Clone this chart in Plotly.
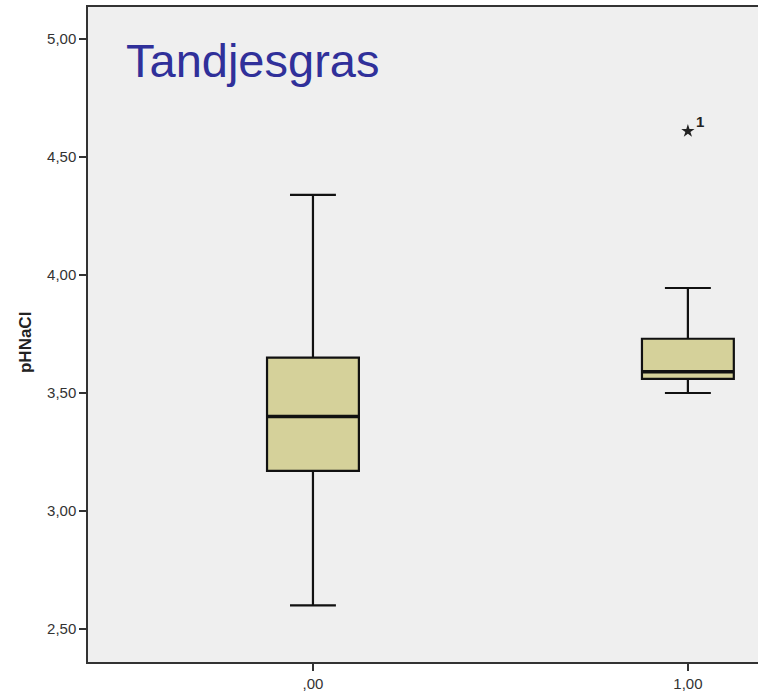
import plotly.graph_objects as go

# Data
groups = [0.0, 1.0]
group_labels = [",00", "1,00"]
lower_whisker = [2.60, 3.50]
q1 = [3.17, 3.56]
median = [3.40, 3.59]
q3 = [3.65, 3.73]
upper_whisker = [4.34, 3.945]
outlier_x = [1.0]
outlier_y = [4.61]
outlier_labels = ["1"]
y_ticks = [2.5, 3.0, 3.5, 4.0, 4.5, 5.0]
y_tick_labels = ["2,50", "3,00", "3,50", "4,00", "4,50", "5,00"]

box_w = 0.245
fill = "#d5d19a"
FONT = "Liberation Sans, Arial"

fig = go.Figure()
for i, g in enumerate(groups):
    fig.add_trace(go.Box(
        x=[g], q1=[q1[i]], median=[median[i]], q3=[q3[i]],
        lowerfence=[lower_whisker[i]], upperfence=[upper_whisker[i]],
        width=box_w, whiskerwidth=0.5, fillcolor=fill,
        line=dict(color="#111111", width=2.2),
        boxpoints=False, showlegend=False, hoverinfo="skip",
    ))
    fig.add_trace(go.Scatter(
        x=[g - box_w / 2, g + box_w / 2], y=[median[i], median[i]],
        mode="lines", line=dict(color="#111111", width=3.5),
        showlegend=False, hoverinfo="skip",
    ))

fig.add_trace(go.Scatter(
    x=outlier_x, y=outlier_y, mode="markers",
    marker=dict(symbol="star", size=10, color="#222222"),
    showlegend=False, hoverinfo="skip",
))
for ox, oy, ol in zip(outlier_x, outlier_y, outlier_labels):
    fig.add_annotation(
        x=ox, y=oy, text="<b>" + ol + "</b>", showarrow=False,
        xanchor="left", yanchor="middle", xshift=6, yshift=10,
        font=dict(family=FONT, size=15, color="#222222"),
    )

fig.add_annotation(
    text="Tandjesgras", xref="paper", yref="paper", x=0.054, y=0.919,
    xanchor="left", yanchor="middle", showarrow=False,
    font=dict(family=FONT, size=47, color="#30309a"),
)

fig.add_annotation(
    text="<b>pHNaCl</b>", xref="paper", yref="paper", x=-0.094, y=0.487,
    xanchor="center", yanchor="middle", textangle=-90, showarrow=False,
    font=dict(family=FONT, size=17, color="#222222"),
)

fig.update_layout(
    width=758, height=692,
    margin=dict(l=88, r=0, t=7, b=30),
    paper_bgcolor="white", plot_bgcolor="#efefef",
    font=dict(family=FONT, size=15, color="#333333"),
    xaxis=dict(
        range=[-0.6, 1.187], tickvals=groups, ticktext=group_labels,
        showgrid=False, zeroline=False, showline=True, linecolor="#333333",
        linewidth=1.5, mirror=True, ticks="outside", ticklen=7,
        tickcolor="#333333", tickwidth=1.5,
    ),
    yaxis=dict(
        range=[2.36, 5.136], tickvals=y_ticks, ticktext=y_tick_labels,
        showgrid=False, zeroline=False, showline=True, linecolor="#333333",
        linewidth=1.5, ticks="outside", ticklen=7, tickcolor="#333333",
        tickwidth=1.5,
    ),
)

fig.write_html("out.html")
